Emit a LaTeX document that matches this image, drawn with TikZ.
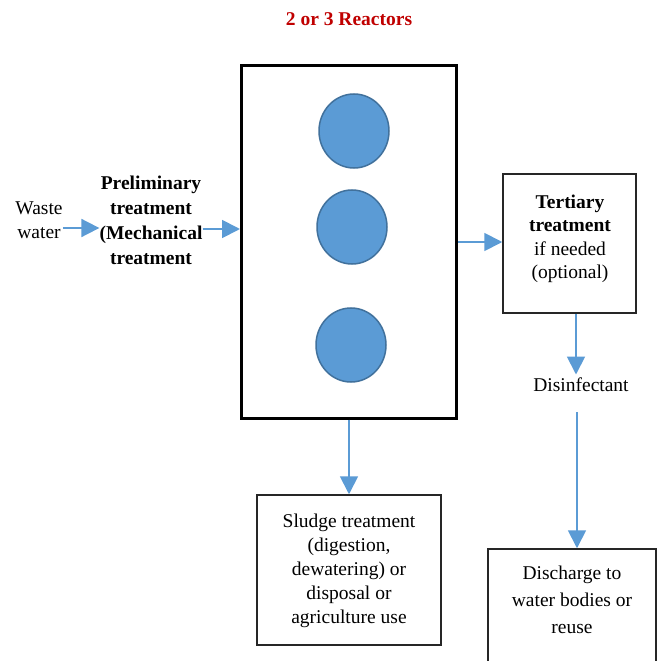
\documentclass[tikz,border=0pt]{standalone}
\usepackage{fontspec}
\setmainfont{Liberation Serif}
\usetikzlibrary{arrows.meta,shapes.geometric}
\definecolor{flowblue}{HTML}{5B9BD5}
\definecolor{tankfill}{HTML}{5B9BD5}
\definecolor{tankedge}{HTML}{41719C}
\definecolor{titlered}{HTML}{C00000}
\begin{document}
\begin{tikzpicture}[x=1pt,y=-1pt,
  every node/.style={font=\fontsize{19.5}{24}\selectfont, align=center},
  txt/.style={inner sep=0pt},
  box/.style={draw=black!85, line width=1.5pt, fill=white, inner sep=0pt},
  reactorbox/.style={draw=black, line width=3pt, fill=white, inner sep=0pt},
  tank/.style={ellipse, draw=tankedge, line width=1.5pt, fill=tankfill,
               minimum width=70pt, minimum height=74pt, inner sep=0pt},
  flow/.style={draw=flowblue, line width=1.8pt,
               -{Triangle[length=18pt,width=18pt]}}]
  % page
  \clip (0,0) rectangle (665,661);
  \fill[white] (0,0) rectangle (665,661);

  % title
  \node[txt, font=\bfseries\fontsize{19.5}{24}\selectfont, text=titlered]
    (title) at (349,19) {2 or 3 Reactors};

  % reactor vessel with its tanks
  \node[reactorbox, minimum width=215pt, minimum height=352pt]
    (reactor) at (349,242) {};
  \node[tank] (tankA) at (354,131) {};
  \node[tank] (tankB) at (352,227) {};
  \node[tank] (tankC) at (351,345) {};

  % inlet side
  \node[txt] (waste) at (39,220.5) {Waste\\water};
  \node[txt, font=\bfseries\fontsize{19.5}{25}\selectfont]
    (prelim) at (151,220.5) {Preliminary\\treatment\\(Mechanical\\treatment};

  % tertiary stage
  \node[box, minimum width=133pt, minimum height=139pt]
    (tertiary) at (569.5,243.5) {};
  \node[txt, font=\fontsize{19.5}{23.5}\selectfont]
    (tertiarytext) at (570,239) {{\bfseries Tertiary}\\{\bfseries treatment}\\if needed\\(optional)};

  \node (disinf) at (581,385) {Disinfectant};

  % discharge (runs off the lower edge)
  \node[box, minimum width=168pt, minimum height=140pt]
    (dischargebox) at (572,619) {};
  \node[txt, font=\fontsize{19.5}{27}\selectfont]
    (discharge) at (572,600) {Discharge to\\water bodies or\\reuse};

  % sludge line
  \node[box, minimum width=184pt, minimum height=150pt]
    (sludgebox) at (349,570) {};
  \node[txt] (sludge) at (349,570.5)
    {Sludge treatment\\(digestion,\\dewatering) or\\disposal or\\agriculture use};

  % connectors
  \draw[flow] ([yshift=-7.5pt]waste.east) -- ([yshift=-7.5pt]waste.east -| prelim.west);
  \draw[flow] ([yshift=-8.5pt]prelim.east) -- ([yshift=-8.5pt]prelim.east -| reactor.west);
  \draw[flow] (reactor.east) -- (reactor.east -| tertiary.west);
  \draw[flow] (reactor.south) -- (reactor.south |- sludgebox.north);
  \draw[flow] ([xshift=6.5pt]tertiary.south) -- ([xshift=6.5pt]tertiary.south |- disinf.north);
  \draw[flow, shorten <=17pt] ([xshift=5pt]dischargebox.north |- disinf.south)
    -- ([xshift=5pt]dischargebox.north);
\end{tikzpicture}
\end{document}
